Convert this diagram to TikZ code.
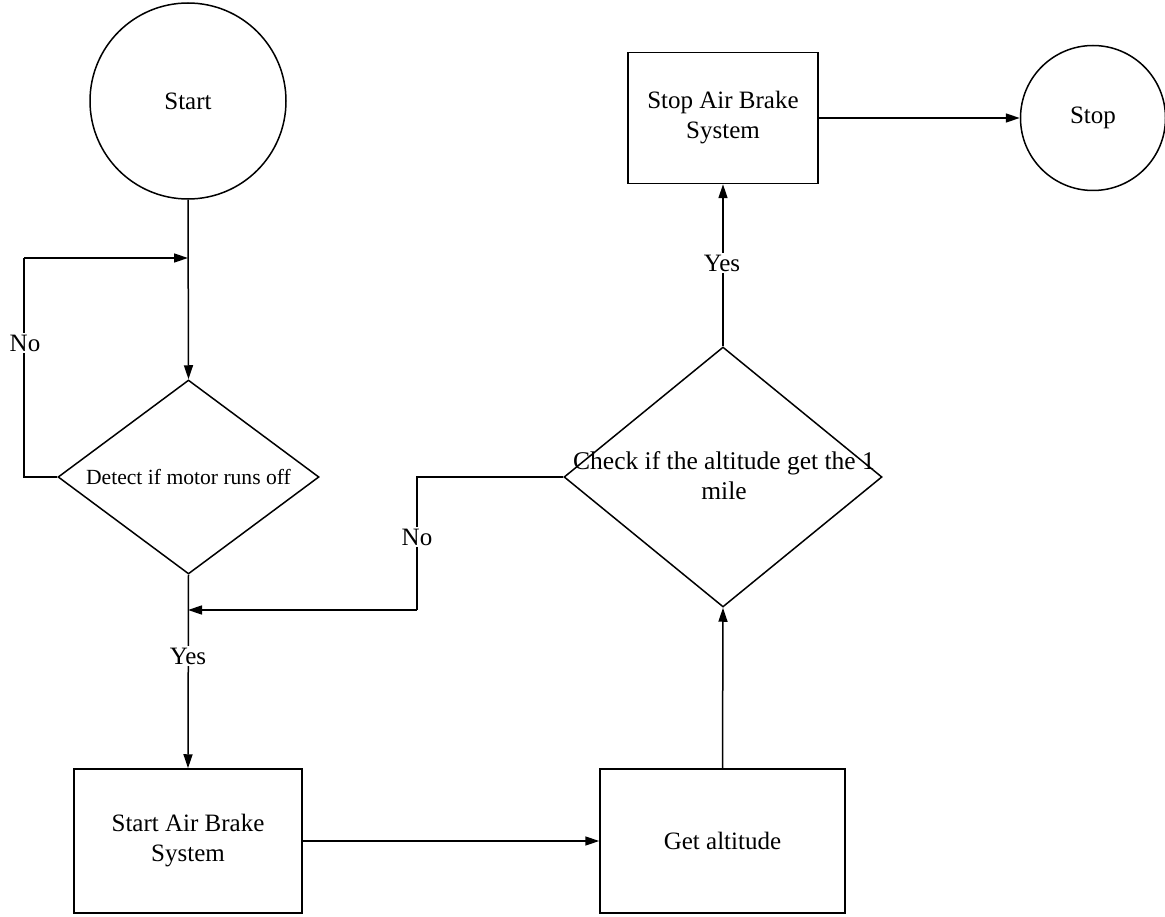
\documentclass[tikz,border=0pt]{standalone}
\usepackage{fontspec}
\setmainfont{Liberation Serif}
\usetikzlibrary{shapes.geometric,arrows.meta}
\begin{document}
\begin{tikzpicture}[x=1pt,y=-1pt,
  every node/.style={font=\fontsize{25}{30}\selectfont},
  line/.style={line width=1.5pt, draw=black},
  arr/.style={line, -{Triangle[length=14pt,width=9pt]}},
  term/.style={circle, draw, line width=1.5pt, inner sep=0pt},
  proc/.style={rectangle, draw, line width=1.5pt, inner sep=0pt, align=center},
  dec/.style={diamond, draw, line width=1.5pt, inner sep=0pt},
  lbl/.style={fill=white, inner sep=2pt}]
\useasboundingbox (0,0) rectangle (1165,917);
\node[term, minimum size=145pt] (stop) at (1093,118) {Stop};
\node[term, minimum size=196pt] (start) at (188,101) {Start};
\node[proc, minimum width=190pt, minimum height=131pt] (stopab) at (723,118) {Stop Air Brake\\System};
\node[dec, minimum width=261pt, minimum height=194pt] (d1) at (188.5,477) {};
\node[font=\fontsize{21.6}{26}\selectfont] (d1t) at (d1) {Detect if motor runs off};
\node[dec, minimum width=318pt, minimum height=260pt] (d2) at (723,477) {};
\node[align=center, font=\fontsize{25.5}{30}\selectfont] (d2t) at (724,476) {Check if the altitude get the 1\\mile};
\node[proc, minimum width=228pt, minimum height=144pt] (startab) at (188,841) {Start Air Brake\\System};
\node[proc, minimum width=245pt, minimum height=144pt] (getalt) at (722.5,841) {Get altitude};
\coordinate (j1) at (188,258);
\coordinate (c1) at (24,258);
\coordinate (j2) at (188,610);
\coordinate (c2) at (417,610);
\draw[arr] (start.south) -- (d1.north);
\draw[line] (d1.west) -| (c1);
\draw[arr] (c1) -- (j1);
\node[lbl] (no1) at (25,343) {No};
\draw[arr] (d1.south) -- (startab.north);
\node[lbl] (yes1) at (188,656) {Yes};
\draw[line] (d2.west) -| (c2);
\draw[arr] (c2) -- (j2);
\node[lbl] (no2) at (417,537) {No};
\draw[arr] (startab.east) -- (getalt.west);
\draw[arr] (getalt.north) -- (d2.south);
\draw[arr] (d2.north) -- (stopab.south);
\node[lbl] (yes2) at (722,263) {Yes};
\draw[arr] (stopab.east) -- (stop.west);
\end{tikzpicture}
\end{document}
